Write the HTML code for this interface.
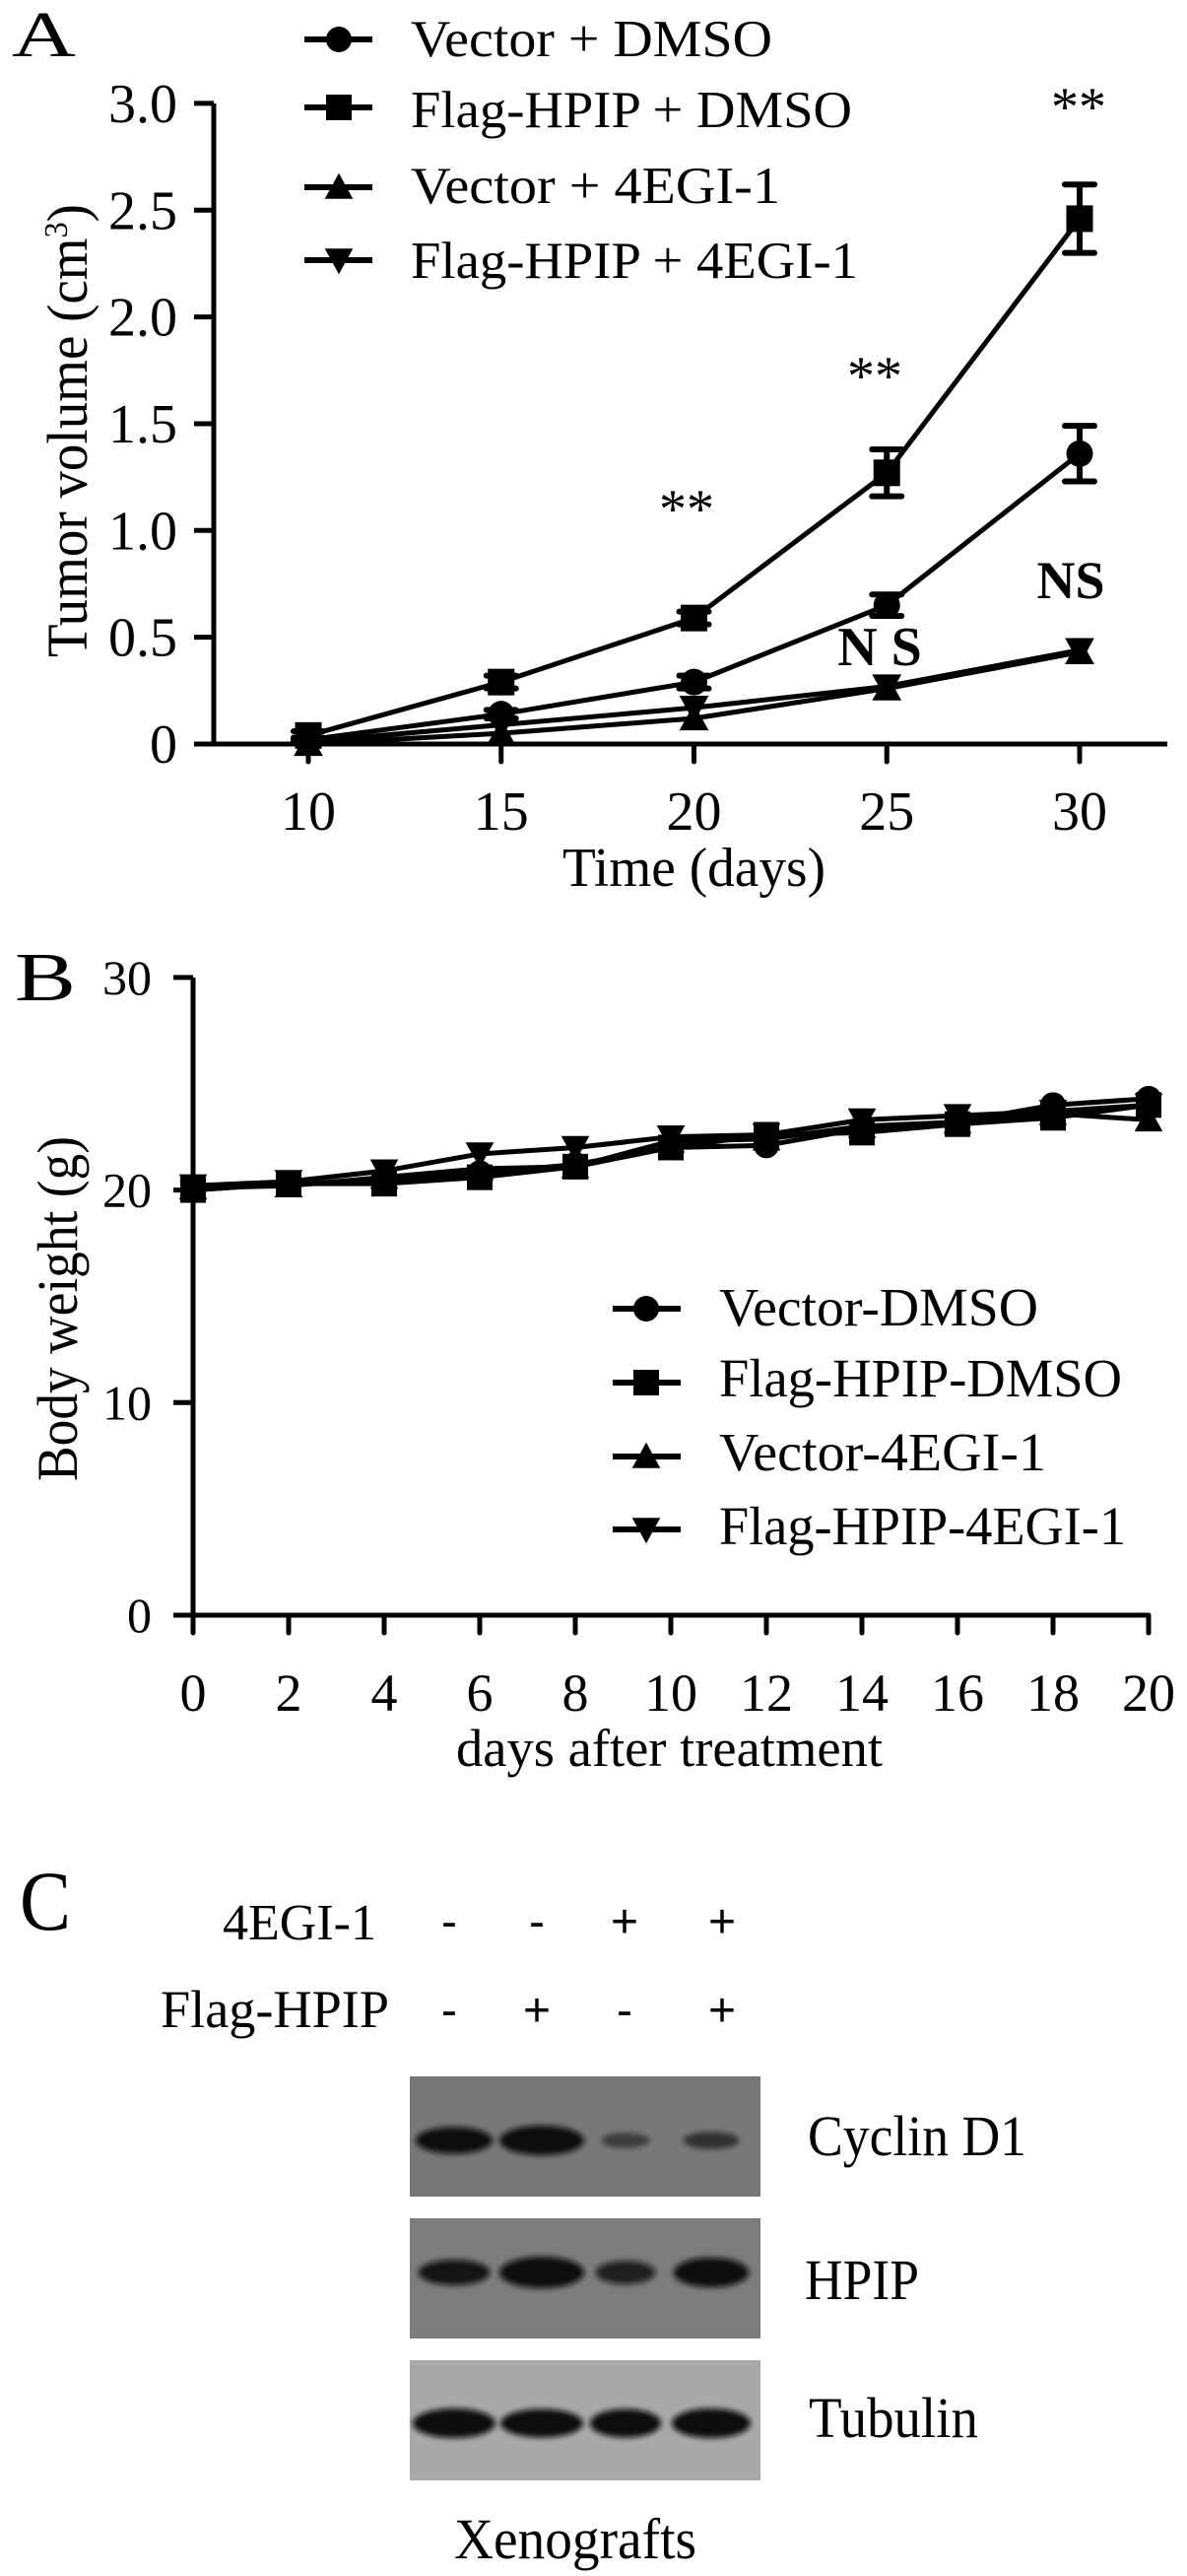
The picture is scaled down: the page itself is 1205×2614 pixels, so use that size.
<!DOCTYPE html>
<html><head><meta charset="utf-8"><style>
html,body{margin:0;padding:0;background:#fff;}
svg{display:block;font-family:"Liberation Serif",serif;}
</style></head><body>
<svg id="fig" width="1205" height="2614" viewBox="0 0 1205 2614" xmlns="http://www.w3.org/2000/svg">
<g id="panelA"></g>
<g id="panelB"></g>
<g id="panelC">
  <text x="20" y="1958" font-size="86" textLength="52" lengthAdjust="spacingAndGlyphs">C</text>
  <text x="226" y="1968" font-size="52" textLength="156" lengthAdjust="spacingAndGlyphs">4EGI-1</text>
  <text x="163" y="2057" font-size="54" textLength="232" lengthAdjust="spacingAndGlyphs">Flag-HPIP</text>
  <text x="820" y="2187" font-size="58" textLength="222" lengthAdjust="spacingAndGlyphs">Cyclin D1</text>
  <text x="817" y="2333" font-size="58" textLength="116" lengthAdjust="spacingAndGlyphs">HPIP</text>
  <text x="821" y="2473" font-size="58" textLength="172" lengthAdjust="spacingAndGlyphs">Tubulin</text>
  <text x="461" y="2596" font-size="58" textLength="246" lengthAdjust="spacingAndGlyphs">Xenografts</text>
</g>
</svg>
<script>
var NS='http://www.w3.org/2000/svg';
// ===== Panel A data =====
var aDays=[10,15,20,25,30];
var aVecDmso=[0.02,0.14,0.29,0.65,1.36];
var aFlagDmso=[0.04,0.29,0.59,1.27,2.46];
var aVec4egi=[0.0,0.05,0.12,0.26,0.43];
var aFlag4egi=[0.01,0.09,0.17,0.27,0.44];
var aVecDmsoErr=[0.01,0.02,0.03,0.05,0.13];
var aFlagDmsoErr=[0.02,0.03,0.03,0.11,0.16];
var aYTicks=[0,0.5,1.0,1.5,2.0,2.5,3.0];
var aYTickLabels=['0','0.5','1.0','1.5','2.0','2.5','3.0'];
var aXTicks=[10,15,20,25,30];
var aLegend=['Vector + DMSO','Flag-HPIP + DMSO','Vector + 4EGI-1','Flag-HPIP + 4EGI-1'];
// ===== Panel B data =====
var bDays=[0,2,4,6,8,10,12,14,16,18,20];
var bVecDmso=[20.0,20.3,20.4,20.8,21.2,22.0,22.1,22.9,23.2,24.0,24.3];
var bFlagDmso=[20.0,20.3,20.3,20.6,21.1,22.0,22.6,22.7,23.1,23.4,24.0];
var bVec4egi=[20.1,20.2,20.6,21.0,21.1,22.3,22.4,23.0,23.2,23.6,23.3];
var bFlag4egi=[20.2,20.4,20.9,21.7,22.0,22.5,22.6,23.3,23.5,23.7,24.0];
var bYTicks=[0,10,20,30];
var bXTicks=[0,2,4,6,8,10,12,14,16,18,20];
var bLegend=['Vector-DMSO','Flag-HPIP-DMSO','Vector-4EGI-1','Flag-HPIP-4EGI-1'];
// ===== Panel C data =====
var cLanes=[1,2,3,4];
var c4egi=['-','-','+','+'];
var cFlag=['-','+','-','+'];
var cCyclin=[0.85,1.0,0.25,0.35];
var cHpip=[0.7,1.0,0.6,0.9];
var cTubulin=[1.0,0.95,0.95,1.0];

function mk(tag,attrs,parent){var e=document.createElementNS(NS,tag);for(var k in attrs)e.setAttribute(k,attrs[k]);parent.appendChild(e);return e;}
function marker(g,type,cx,cy,s){
  var m;
  if(type==='circle'){m=mk('circle',{cx:cx,cy:cy,r:s*0.5},g);}
  else if(type==='square'){m=mk('rect',{x:cx-s/2,y:cy-s/2,width:s,height:s},g);}
  else if(type==='up'){m=mk('polygon',{points:(cx)+','+(cy-s*0.55)+' '+(cx-s*0.55)+','+(cy+s*0.45)+' '+(cx+s*0.55)+','+(cy+s*0.45)},g);}
  else {m=mk('polygon',{points:(cx)+','+(cy+s*0.55)+' '+(cx-s*0.55)+','+(cy-s*0.45)+' '+(cx+s*0.55)+','+(cy-s*0.45)},g);}
  m.setAttribute('fill','#000');
  return m;
}
var types=['circle','square','up','down'];

// ===== Panel A =====
(function(){
  var g=document.getElementById('panelA');
  var X=function(d){return 313+(d-10)*39.15;};
  var Y=function(v){return 755-v*216.7;};
  var t=mk('text',{x:12,y:57,'font-size':66,textLength:65,lengthAdjust:'spacingAndGlyphs'},g);t.textContent='A';
  
  
  var ax=mk('path',{d:'M217 '+Y(3)+' V755 M197 755 H1185',stroke:'#000','stroke-width':5,fill:'none'},g);
  
  
  aYTicks.forEach(function(v,i){
    var tk=mk('line',{x1:197,x2:217,y1:Y(v),y2:Y(v),stroke:'#000','stroke-width':5},g);
    
    
    var l=mk('text',{x:180,y:Y(v)+19,'font-size':56,'text-anchor':'end'},g);l.textContent=aYTickLabels[i];
    
    
  });
  aXTicks.forEach(function(d){
    var tk=mk('line',{x1:X(d),x2:X(d),y1:755,y2:773,stroke:'#000','stroke-width':5,'stroke-linecap':'round'},g);
    
    
    var l=mk('text',{x:X(d),y:842,'font-size':56,'text-anchor':'middle'},g);l.textContent=String(d);
    
    
  });
  var xt=mk('text',{x:571,y:899,'font-size':56,textLength:267,lengthAdjust:'spacingAndGlyphs'},g);xt.textContent='Time (days)';
  
  
  var yt=mk('text',{x:0,y:0,'font-size':58,'text-anchor':'middle',textLength:460,lengthAdjust:'spacingAndGlyphs',transform:'translate(88,437) rotate(-90)'},g);
  yt.innerHTML='Tumor volume (cm<tspan dy="-20" font-size="34">3</tspan><tspan dy="20">)</tspan>';
  
  
  var series=[aVecDmso,aFlagDmso,aVec4egi,aFlag4egi];
  var errs=[aVecDmsoErr,aFlagDmsoErr,null,null];
  series.forEach(function(s,si){
    var sg=mk('g',{},g);
    
    
    var d=s.map(function(v,i){return (i?'L':'M')+X(aDays[i])+' '+Y(v);}).join(' ');
    mk('path',{d:d,stroke:'#000','stroke-width':5,fill:'none'},sg);
    s.forEach(function(v,i){
      if(errs[si]){var e=errs[si][i];var x=X(aDays[i]);
        mk('path',{d:'M'+x+' '+Y(v+e)+' V'+Y(v-e)+' M'+(x-15)+' '+Y(v+e)+' H'+(x+15)+' M'+(x-15)+' '+Y(v-e)+' H'+(x+15),stroke:'#000','stroke-width':6,'stroke-linecap':'round'},sg);}
      var m=marker(sg,types[si],X(aDays[i]),Y(v),27);
      
      
    });
  });
  var ann=[['**',697,535,false],['**',888,400,false],['**',1095,127,false],['NS',1087,607,true],['N S',893,675,false]];
  ann.forEach(function(a){
    var l=mk('text',{x:a[1],y:a[2],'font-size':a[3]?54:56,'text-anchor':'middle','font-weight':a[0]==='**'?'normal':'bold'},g);
    l.textContent=a[0];
    
    
  });
  var lb=[57,129,206,282],lc=[40,109,190,264],lw=[367,448,375,454];
  aLegend.forEach(function(txt,i){
    var lg=mk('g',{},g);
    
    
    mk('line',{x1:309,x2:378,y1:lc[i],y2:lc[i],stroke:'#000','stroke-width':6},lg);
    marker(lg,types[i],344,lc[i],26);
    var l=mk('text',{x:417,y:lb[i],'font-size':53,textLength:lw[i],lengthAdjust:'spacingAndGlyphs'},lg);l.textContent=txt;
  });
})();

// ===== Panel B =====
(function(){
  var g=document.getElementById('panelB');
  var X=function(d){return 196+d*48.5;};
  var Y=function(v){return 1639-v*21.57;};
  var t=mk('text',{x:15,y:1015,'font-size':70,textLength:62,lengthAdjust:'spacingAndGlyphs'},g);t.textContent='B';
  
  
  var ax=mk('path',{d:'M196 '+Y(30)+' V1639 M176 1639 H'+X(20),stroke:'#000','stroke-width':5,fill:'none'},g);
  
  
  bYTicks.forEach(function(v){
    var tk=mk('line',{x1:176,x2:196,y1:Y(v),y2:Y(v),stroke:'#000','stroke-width':5},g);
    
    
    var l=mk('text',{x:154,y:Y(v)+17,'font-size':50,'text-anchor':'end'},g);l.textContent=String(v);
    
    
  });
  bXTicks.forEach(function(d){
    var tk=mk('line',{x1:X(d),x2:X(d),y1:1639,y2:1657,stroke:'#000','stroke-width':5,'stroke-linecap':'round'},g);
    
    
    var l=mk('text',{x:X(d),y:1736,'font-size':54,'text-anchor':'middle'},g);l.textContent=String(d);
    
    
  });
  var xt=mk('text',{x:463,y:1792,'font-size':54,textLength:433,lengthAdjust:'spacingAndGlyphs'},g);xt.textContent='days after treatment';
  
  
  var yt=mk('text',{x:0,y:0,'font-size':58,'text-anchor':'middle',textLength:350,lengthAdjust:'spacingAndGlyphs',transform:'translate(78,1328) rotate(-90)'},g);
  yt.textContent='Body weight (g)';
  
  
  [bVecDmso,bFlagDmso,bVec4egi,bFlag4egi].forEach(function(s,si){
    var sg=mk('g',{},g);
    
    
    var d=s.map(function(v,i){return (i?'L':'M')+X(bDays[i])+' '+Y(v);}).join(' ');
    mk('path',{d:d,stroke:'#000','stroke-width':5,fill:'none'},sg);
    s.forEach(function(v,i){
      var m=marker(sg,types[si],X(bDays[i]),Y(v),26);
      
      
    });
  });
  var lb=[1345,1417,1492,1567],lc=[1328,1403,1478,1552],lw=[324,409,332,413];
  bLegend.forEach(function(txt,i){
    var lg=mk('g',{},g);
    
    
    mk('line',{x1:622,x2:691,y1:lc[i],y2:lc[i],stroke:'#000','stroke-width':6},lg);
    marker(lg,types[i],656,lc[i],26);
    var l=mk('text',{x:730,y:lb[i],'font-size':55,textLength:lw[i],lengthAdjust:'spacingAndGlyphs'},lg);l.textContent=txt;
  });
})();

// ===== Panel C =====
(function(){
  var g=document.getElementById('panelC');
  var laneX=[456,545,634,733];
  var bandX=[461,550,635,722];
  var bandW=[84,86,74,80];
  cLanes.forEach(function(l,i){
    var a=mk('text',{x:laneX[i],y:1966,'font-size':48,'text-anchor':'middle','font-family':'Liberation Sans, sans-serif'},g);a.textContent=c4egi[i];
    
    
    var b=mk('text',{x:laneX[i],y:2056,'font-size':48,'text-anchor':'middle','font-family':'Liberation Sans, sans-serif'},g);b.textContent=cFlag[i];
    
    
  });
  var defs=mk('defs',{},g);
  var f=mk('filter',{id:'blur',x:'-30%',y:'-60%',width:'160%',height:'220%'},defs);
  mk('feGaussianBlur',{stdDeviation:3},f);
  var blots=[[2107,'#787878',cCyclin,2172,30,'cyclin-d1-blot'],[2251,'#7c7c7c',cHpip,2306,32,'hpip-blot'],[2395,'#a9a9a9',cTubulin,2459,30,'tubulin-blot']];
  blots.forEach(function(b){
    var bg=mk('g',{},g);
    
    
    mk('rect',{x:416,y:b[0],width:356,height:122,fill:b[1]},bg);
    b[2].forEach(function(v,i){
      var w=bandW[i]*(0.55+0.45*v);
      var e=mk('ellipse',{cx:bandX[i],cy:b[3],rx:w/2,ry:b[4]*(0.35+0.65*v)/2,fill:'#0a0a0a','fill-opacity':Math.min(1,0.25+v),filter:'url(#blur)'},bg);
      
      
    });
  });
})();
</script>
</body></html>
